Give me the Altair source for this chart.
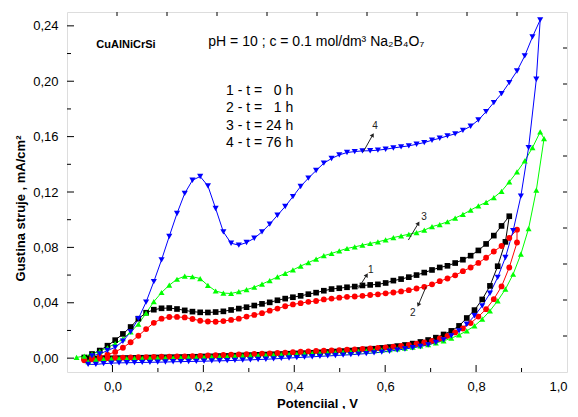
import altair as alt
import pandas as pd

FONT = "Liberation Sans"

# potential grids (V) on which the recorded points sit
GRID_A = [-0.079, -0.062, -0.045, -0.028, -0.011, 0.006, 0.023, 0.040, 0.057, 0.074,
          0.091, 0.108, 0.125, 0.142, 0.159, 0.176, 0.193, 0.210, 0.227, 0.244,
          0.261, 0.278, 0.295, 0.312, 0.329, 0.346, 0.363, 0.380, 0.397, 0.414,
          0.431, 0.448, 0.465, 0.482, 0.499, 0.516, 0.533, 0.550, 0.567, 0.584,
          0.601, 0.618, 0.635, 0.652, 0.669, 0.686, 0.703, 0.720, 0.737, 0.754,
          0.771, 0.788, 0.805, 0.822, 0.839, 0.856, 0.873, 0.890, 0.907, 0.924, 0.941]
GRID_B = [-0.0535, -0.0365, -0.0195, -0.0025, 0.0145, 0.0315, 0.0485, 0.0655, 0.0825, 0.0995,
          0.1165, 0.1335, 0.1505, 0.1675, 0.1845, 0.2015, 0.2185, 0.2355, 0.2525, 0.2695,
          0.2865, 0.3035, 0.3205, 0.3375, 0.3545, 0.3715, 0.3885, 0.4055, 0.4225, 0.4395,
          0.4565, 0.4735, 0.4905, 0.5075, 0.5245, 0.5415, 0.5585, 0.5755, 0.5925, 0.6095,
          0.6265, 0.6435, 0.6605, 0.6775, 0.6945, 0.7115, 0.7285, 0.7455, 0.7625, 0.7795,
          0.7965, 0.8135, 0.8305, 0.8475, 0.8645, 0.8815, 0.8985, 0.9155, 0.9325, 0.9495]

# curve 1 (t = 0 h), black squares
C1_FWD_START = -0.062
C1_FWD = [0.0005, 0.0030, 0.0055, 0.0090, 0.0130, 0.0175, 0.0225, 0.0285, 0.0328, 0.0350,
          0.0360, 0.0362, 0.0355, 0.0345, 0.0336, 0.0331, 0.0330, 0.0333, 0.0338, 0.0348,
          0.0358, 0.0368, 0.0380, 0.0392, 0.0403, 0.0418, 0.0430, 0.0440, 0.0450, 0.0462,
          0.0473, 0.0487, 0.0499, 0.0505, 0.0512, 0.0517, 0.0525, 0.0529, 0.0533, 0.0543,
          0.0560, 0.0571, 0.0585, 0.0600, 0.0618, 0.0637, 0.0655, 0.0667, 0.0687, 0.0711,
          0.0740, 0.0778, 0.0825, 0.0885, 0.0955, 0.1025]
C1_REV_START = 0.8645
C1_REV = [0.0840, 0.0664, 0.0522, 0.0424, 0.0347, 0.0290, 0.0233, 0.0197, 0.0171, 0.0148,
          0.0131, 0.0117, 0.0105, 0.0095, 0.0087, 0.0080, 0.0074, 0.0068, 0.0063, 0.0059,
          0.0055, 0.0051, 0.0048, 0.0045, 0.0042, 0.0039, 0.0036, 0.0034, 0.0032, 0.0030,
          0.0028, 0.0026, 0.0024, 0.0022, 0.0020, 0.0018, 0.0016, 0.0015, 0.0013, 0.0012,
          0.0010, 0.0009, 0.0008, 0.0007, 0.0006, 0.0005, 0.0004, 0.0003, 0.0002, 0.0001,
          0.0000, -0.0001, -0.0002, -0.0003, -0.0004]

# curve 2 (t = 1 h), red circles
C2_FWD_START = -0.062
C2_FWD = [-0.0008, 0.0000, 0.0010, 0.0025, 0.0045, 0.0075, 0.0115, 0.0162, 0.0210, 0.0255,
          0.0285, 0.0297, 0.0298, 0.0294, 0.0283, 0.0270, 0.0265, 0.0263, 0.0268, 0.0276,
          0.0285, 0.0300, 0.0312, 0.0325, 0.0343, 0.0358, 0.0375, 0.0388, 0.0397, 0.0407,
          0.0413, 0.0424, 0.0430, 0.0437, 0.0443, 0.0445, 0.0450, 0.0456, 0.0461, 0.0468,
          0.0474, 0.0482, 0.0491, 0.0503, 0.0515, 0.0533, 0.0556, 0.0575, 0.0598, 0.0628,
          0.0655, 0.0688, 0.0725, 0.0770, 0.0810, 0.0868, 0.0928]
C2_REV_START = 0.890
C2_REV = [0.0835, 0.0655, 0.0518, 0.0426, 0.0354, 0.0300, 0.0253, 0.0214, 0.0186, 0.0161,
          0.0142, 0.0125, 0.0113, 0.0104, 0.0096, 0.0089, 0.0083, 0.0078, 0.0074, 0.0070,
          0.0067, 0.0064, 0.0061, 0.0058, 0.0056, 0.0054, 0.0052, 0.0049, 0.0046, 0.0043,
          0.0040, 0.0037, 0.0035, 0.0033, 0.0031, 0.0029, 0.0027, 0.0025, 0.0023, 0.0021,
          0.0019, 0.0017, 0.0015, 0.0013, 0.0012, 0.0011, 0.0010, 0.0009, 0.0008, 0.0007,
          0.0006, 0.0004, 0.0002, 0.0000, -0.0003, -0.0008, -0.0015]

# curve 3 (t = 24 h), green triangles
C3_FWD_START = -0.079
C3_FWD = [0.0005, 0.0015, 0.0030, 0.0050, 0.0075, 0.0105, 0.0140, 0.0190, 0.0245, 0.0325,
          0.0408, 0.0474, 0.0527, 0.0570, 0.0592, 0.0588, 0.0575, 0.0525, 0.0485, 0.0470,
          0.0467, 0.0480, 0.0495, 0.0512, 0.0535, 0.0560, 0.0587, 0.0612, 0.0637, 0.0665,
          0.0690, 0.0715, 0.0740, 0.0756, 0.0775, 0.0792, 0.0804, 0.0816, 0.0828, 0.0840,
          0.0854, 0.0871, 0.0883, 0.0895, 0.0907, 0.0924, 0.0950, 0.0965, 0.0985, 0.1012,
          0.1038, 0.1069, 0.1100, 0.1125, 0.1160, 0.1205, 0.1273, 0.1345, 0.1425, 0.1520, 0.1634]
C3_REV_START = 0.9495
C3_REV = [0.1586, 0.1213, 0.0936, 0.0751, 0.0606, 0.0498, 0.0414, 0.0342, 0.0282, 0.0233,
          0.0197, 0.0168, 0.0144, 0.0125, 0.0110, 0.0098, 0.0088, 0.0080, 0.0073, 0.0067,
          0.0062, 0.0058, 0.0055, 0.0052, 0.0049, 0.0046, 0.0043, 0.0041, 0.0038, 0.0036,
          0.0034, 0.0032, 0.0030, 0.0028, 0.0026, 0.0024, 0.0022, 0.0020, 0.0018, 0.0016,
          0.0014, 0.0012, 0.0011, 0.0009, 0.0008, 0.0006, 0.0005, 0.0004, 0.0003, 0.0002,
          0.0001, 0.0000, -0.0001, -0.0002, -0.0003, -0.0004, -0.0005, -0.0006, -0.0010, -0.0025]

# curve 4 (t = 76 h), blue down-triangles
C4_FWD_START = -0.045
C4_FWD = [0.0017, 0.0030, 0.0055, 0.0078, 0.0122, 0.0190, 0.0285, 0.0405, 0.0553, 0.0710,
          0.0880, 0.1045, 0.1190, 0.1285, 0.1312, 0.1244, 0.1081, 0.0912, 0.0830, 0.0816,
          0.0835, 0.0866, 0.0912, 0.0968, 0.1032, 0.1095, 0.1167, 0.1240, 0.1300, 0.1355,
          0.1408, 0.1442, 0.1468, 0.1485, 0.1492, 0.1497, 0.1498, 0.1502, 0.1509, 0.1518,
          0.1526, 0.1533, 0.1545, 0.1557, 0.1574, 0.1588, 0.1605, 0.1620, 0.1645, 0.1675,
          0.1720, 0.1780, 0.1846, 0.1910, 0.1990, 0.2074, 0.2183, 0.2320, 0.2443]
C4_REV_START = 0.9325
C4_REV = [0.2014, 0.1520, 0.1170, 0.0920, 0.0727, 0.0583, 0.0469, 0.0378, 0.0306, 0.0245,
          0.0197, 0.0161, 0.0132, 0.0113, 0.0096, 0.0084, 0.0075, 0.0066, 0.0058, 0.0050,
          0.0044, 0.0038, 0.0033, 0.0029, 0.0025, 0.0022, 0.0019, 0.0016, 0.0013, 0.0010,
          0.0007, 0.0004, 0.0001, -0.0002, -0.0005, -0.0008, -0.0010, -0.0012, -0.0014, -0.0016,
          -0.0018, -0.0019, -0.0020, -0.0022, -0.0023, -0.0024, -0.0025, -0.0026, -0.0028, -0.0029,
          -0.0030, -0.0031, -0.0032, -0.0033, -0.0034, -0.0036, -0.0040, -0.0045, -0.0045]

CURVES = ["1", "2", "3", "4"]
COLORS = ["#000000", "#ff0000", "#00ff00", "#0000ff"]
SHAPES = ["square", "circle", "triangle-up", "triangle-down"]
SIZES = [32, 38, 48, 62]

FIG = "\u2007"  # digit-wide space used to align the legend column
LEGEND_LINES = ["1 - t = " + FIG + "0 h", "2 - t = " + FIG + "1 h", "3 - t = 24 h", "4 - t = 76 h"]
LEGEND_V = 0.2498
LEGEND_J = [0.1932, 0.1805, 0.1677, 0.1552]

# curve number labels and arrows
LBL_TEXT = ["4", "3", "1", "2"]
LBL_V = [0.5777, 0.6855, 0.5682, 0.6606]
LBL_J = [0.1677, 0.1022, 0.0637, 0.0328]
ARR_V0 = [0.5519, 0.6510, 0.5409, 0.6899]
ARR_J0 = [0.1491, 0.0853, 0.0504, 0.0516]
ARR_V1 = [0.5726, 0.6730, 0.5594, 0.6730]
ARR_J1 = [0.1612, 0.0974, 0.0601, 0.0384]
ARR_ANGLE = [29, 31, 32, 203]

X_MAJOR = [0.0, 0.2, 0.4, 0.6, 0.8]
X_MINOR = [0.1, 0.3, 0.5, 0.7, 0.9]
Y_MAJOR = [0.0, 0.04, 0.08, 0.12, 0.16, 0.20, 0.24]
Y_MINOR = [0.02, 0.06, 0.10, 0.14, 0.18, 0.22]
TOP_TICKS = [0.01, 0.12, 0.23, 0.34, 0.45, 0.56, 0.67, 0.78, 0.89]
RIGHT_TICKS = [0.016, 0.042, 0.068, 0.094, 0.120, 0.146, 0.172, 0.198, 0.224]

W, H = 500, 360


def on_grid(grid, first, n, descending):
    i0 = min(range(len(grid)), key=lambda k: abs(grid[k] - first))
    step = -1 if descending else 1
    return [grid[i0 + step * k] for k in range(n)]


rows = []
series = [
    ("1", GRID_A, C1_FWD_START, C1_FWD, GRID_B, C1_REV_START, C1_REV),
    ("2", GRID_A, C2_FWD_START, C2_FWD, GRID_A, C2_REV_START, C2_REV),
    ("3", GRID_A, C3_FWD_START, C3_FWD, GRID_B, C3_REV_START, C3_REV),
    ("4", GRID_A, C4_FWD_START, C4_FWD, GRID_B, C4_REV_START, C4_REV),
]
for name, ga, fs, fwd, gb, rs, rev in series:
    xs = on_grid(ga, fs, len(fwd), False) + on_grid(gb, rs, len(rev), True)
    ys = fwd + rev
    for k, (v, j) in enumerate(zip(xs, ys)):
        rows.append({"curve": name, "k": k, "v": v, "j": j})
df = pd.DataFrame(rows)

xscale = alt.Scale(domain=[-0.1, 1.0], nice=False, zero=False)
yscale = alt.Scale(domain=[-0.01, 0.25], nice=False, zero=False)

x_axis = alt.Axis(values=[0.0, 0.2, 0.4, 0.6, 0.8, 1.0],
                  labelExpr="replace(format(datum.value, '.1f'), '.', ',')",
                  ticks=False, tickSize=0, domain=False, grid=False,
                  labelFont=FONT, labelFontSize=13, labelColor="black", labelPadding=8,
                  title="Potenciial , V", titleFont=FONT, titleFontSize=13,
                  titleFontWeight="bold", titleColor="black", titleY=31, titleBaseline="middle")
y_axis = alt.Axis(values=Y_MAJOR,
                  labelExpr="replace(format(datum.value, '.2f'), '.', ',')",
                  ticks=False, tickSize=0, domain=False, grid=False,
                  labelFont=FONT, labelFontSize=13, labelColor="black", labelPadding=9,
                  title="Gustina struje , mA/cm²", titleFont=FONT, titleFontSize=13,
                  titleFontWeight="bold", titleColor="black", titleX=-47, titleY=196,
                  titleAngle=270, titleBaseline="middle", titleAlign="center")


def X(field="v"):
    return alt.X(f"{field}:Q", scale=xscale, axis=x_axis)


def Y(field="j"):
    return alt.Y(f"{field}:Q", scale=yscale, axis=y_axis)


color = alt.Color("curve:N", scale=alt.Scale(domain=CURVES, range=COLORS), legend=None)
shape = alt.Shape("curve:N", scale=alt.Scale(domain=CURVES, range=SHAPES), legend=None)
size = alt.Size("curve:N", scale=alt.Scale(domain=CURVES, range=SIZES), legend=None)

lines = alt.Chart(df).mark_line(strokeWidth=1, clip=True).encode(
    x=X(), y=Y(), color=color, detail="curve:N", order="k:Q")
points = alt.Chart(df).mark_point(filled=True, opacity=1, strokeWidth=0, clip=True).encode(
    x=X(), y=Y(), color=color, shape=shape, size=size)

tick_layers = [
    alt.Chart(pd.DataFrame({"v": X_MAJOR})).mark_rule(color="black", strokeWidth=1).encode(
        x=X(), y=alt.value(H), y2=alt.value(H - 7)),
    alt.Chart(pd.DataFrame({"v": X_MINOR})).mark_rule(color="black", strokeWidth=1).encode(
        x=X(), y=alt.value(H), y2=alt.value(H - 4)),
    alt.Chart(pd.DataFrame({"j": Y_MAJOR})).mark_rule(color="black", strokeWidth=1).encode(
        y=Y(), x=alt.value(0), x2=alt.value(7)),
    alt.Chart(pd.DataFrame({"j": Y_MINOR})).mark_rule(color="black", strokeWidth=1).encode(
        y=Y(), x=alt.value(0), x2=alt.value(4)),
    alt.Chart(pd.DataFrame({"v": TOP_TICKS})).mark_rule(color="black", strokeWidth=1).encode(
        x=X(), y=alt.value(0), y2=alt.value(4)),
    alt.Chart(pd.DataFrame({"j": RIGHT_TICKS})).mark_rule(color="black", strokeWidth=1).encode(
        y=Y(), x=alt.value(W), x2=alt.value(W - 4)),
]

alloy = alt.Chart(pd.DataFrame({"v": [0.0298], "j": [0.2265], "t": ["CuAlNiCrSi"]})).mark_text(
    font=FONT, fontSize=11, fontWeight="bold", align="center", baseline="middle", color="black"
).encode(x=X(), y=Y(), text="t:N")
cond = alt.Chart(pd.DataFrame({"v": [0.2109], "j": [0.2283],
                               "t": ["pH = 10 ; c = 0.1 mol/dm³  Na₂B₄O₇"]})).mark_text(
    font=FONT, fontSize=14, align="left", baseline="middle", color="black"
).encode(x=X(), y=Y(), text="t:N")
legend_txt = alt.Chart(pd.DataFrame({"v": [LEGEND_V] * 4, "j": LEGEND_J, "t": LEGEND_LINES})).mark_text(
    font=FONT, fontSize=14, align="left", baseline="middle", color="black"
).encode(x=X(), y=Y(), text="t:N")

lbl_df = pd.DataFrame({"v": LBL_V, "j": LBL_J, "t": LBL_TEXT})
labels = alt.Chart(lbl_df).mark_text(
    font=FONT, fontSize=10, align="center", baseline="middle", color="#222222"
).encode(x=X(), y=Y(), text="t:N")

arr_df = pd.DataFrame({"v": ARR_V0, "j": ARR_J0, "v2": ARR_V1, "j2": ARR_J1, "a": ARR_ANGLE})
arrow_lines = alt.Chart(arr_df).mark_rule(color="#222222", strokeWidth=1).encode(
    x=X(), y=Y(), x2="v2:Q", y2="j2:Q")
arrow_heads = alt.Chart(arr_df).mark_point(shape="triangle-up", filled=True, opacity=1,
                                           strokeWidth=0, size=22, color="#222222").encode(
    x=X("v2"), y=Y("j2"), angle=alt.Angle("a:Q", scale=None))

chart = alt.layer(
    lines, points, *tick_layers, alloy, cond, legend_txt, labels, arrow_lines, arrow_heads
).properties(
    width=W, height=H,
    autosize=alt.AutoSizeParams(type="none"),
    padding={"left": 59, "top": 4, "right": 2, "bottom": 37},
).configure_view(stroke="black", strokeWidth=1).configure(background="white")

chart.save("out.html", embed_options={"renderer": "svg", "actions": False})
